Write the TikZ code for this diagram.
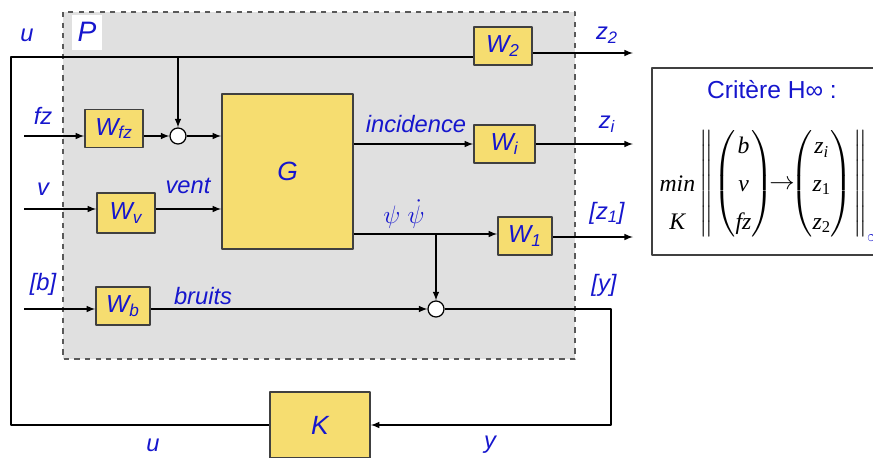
\documentclass[tikz,border=0pt]{standalone}
\usepackage{amsmath}
\usepackage{fontspec}
\setmainfont{Liberation Sans}
\newfontfamily\seriffont{Liberation Serif}
\newcommand{\ts}[1]{\text{\seriffont\itshape #1}}
\definecolor{jaune}{RGB}{246,221,112}
\definecolor{bleu}{RGB}{22,22,205}
\definecolor{grisP}{RGB}{224,224,224}
\begin{document}
\begin{tikzpicture}[x=0.02cm, y=-0.02cm, >=latex, line join=round, line width=0.7pt,
    wbox/.style={draw=black!75, fill=jaune, line width=0.9pt, inner sep=0pt,
      minimum height=0.76cm, font=\fontsize{14}{16}\selectfont\itshape, text=bleu},
    lbl/.style={text=bleu, font=\fontsize{13.5}{16}\selectfont\itshape},
    somme/.style={draw, fill=white, circle, inner sep=0pt, minimum size=0.32cm}]
  \useasboundingbox (0,0) rectangle (873,457);

  % Bloc P (fond gris en pointillés)
  \draw[fill=grisP, draw=black!65, dashed, line width=0.9pt] (63,12) rectangle (575,359);
  \node[lbl, fill=white, minimum width=0.62cm, minimum height=0.7cm, font=\fontsize{16}{18}\selectfont\itshape] (P) at (87,32) {P};

  % Blocs
  \node[wbox, minimum width=1.16cm] (Wfz) at (114,128.5) {W\textsubscript{fz}};
  \node[wbox, minimum width=1.16cm, minimum height=0.8cm] (Wv) at (126,213) {W\textsubscript{v}};
  \node[wbox, minimum width=1.08cm] (Wb) at (123,306) {W\textsubscript{b}};
  \node[wbox, minimum width=1.16cm] (W2) at (503,46) {W\textsubscript{2}};
  \node[wbox, minimum width=1.22cm] (Wi) at (504.5,144) {W\textsubscript{i}};
  \node[wbox, minimum width=1.08cm] (W1) at (525,236) {W\textsubscript{1}};
  \node[wbox, minimum width=2.62cm, minimum height=3.1cm, font=\fontsize{15}{17}\selectfont\itshape] (G) at (287.5,171.5) {\raisebox{-0.16cm}{G}};
  \node[wbox, minimum width=2cm, minimum height=1.32cm, font=\fontsize{15}{17}\selectfont\itshape] (K) at (320,425) {K};
  \node[somme] (S1) at (178,136) {};
  \node[somme] (S2) at (436,309) {};

  % Points de passage
  \coordinate (ucoin) at (11,57);
  \coordinate (ycoin) at (611,425);
  \coordinate (infz) at (24,136);
  \coordinate (inv) at (24,209);
  \coordinate (inb) at (24,309);
  \coordinate (psi) at (436,234);
  \coordinate (z2) at (633,53);
  \coordinate (zi) at (633,144);
  \coordinate (z1) at (633,237);

  % Entrées
  \draw[->] (infz) -- (infz -| Wfz.west);
  \draw[->] (inv) -- (inv -| Wv.west);
  \draw[->] (inb) -- (inb -| Wb.west);
  \draw[->] (Wfz.east |- S1) -- (S1.west);
  \draw[->] (S1.east) -- (S1 -| G.west);
  \draw[->] (Wv.east |- inv) -- (inv -| G.west);
  \draw[->] (Wb.east |- S2) -- (S2.west);

  % Boucle de commande u
  \draw (K.west) -| (ucoin) -- (ucoin -| W2.west);
  \draw[->] (S1 |- ucoin) -- (S1.north);

  % Sorties
  \draw[->] (G.east |- Wi) -- (Wi.west);
  \draw[->] (G.east |- psi) -- (psi -| W1.west);
  \draw[->] (psi) -- (S2.north);
  \draw[->] (z2 -| W2.east) -- (z2);
  \draw[->] (Wi.east) -- (zi);
  \draw[->] (z1 -| W1.east) -- (z1);
  \draw[->] (S2.east) -| (ycoin) -- (K.east);

  % Étiquettes
  \node[lbl] (lu) at (27,35) {u};
  \node[lbl] (lfz) at (43,116) {fz};
  \node[lbl] (lv) at (43,189) {v};
  \node[lbl] (lb) at (43,284) {[b]};
  \node[lbl] (lvent) at (188,186) {vent};
  \node[lbl] (lbruits) at (203,296) {bruits};
  \node[lbl] (linc) at (416,124) {incidence};
  \node[lbl] (lpsi) at (404,214) {$\psi\;\dot{\psi}$};
  \node[lbl] (lz2) at (607,35) {z\textsubscript{2}};
  \node[lbl] (lzi) at (607,124) {z\textsubscript{i}};
  \node[lbl] (lz1) at (607,213) {[z\textsubscript{1}]};
  \node[lbl] (ly) at (604,285) {[y]};
  \node[lbl] (lu2) at (153,445) {u};
  \node[lbl] (ly2) at (490,445) {y};

  % Critère H infini
  \draw[draw=black!75, line width=0.9pt] (652,68) rectangle (890,255);
  \node[text=bleu, font=\fontsize{14}{16}\selectfont] (crit) at (772,90) {Critère H∞ :};
  \node[anchor=west, font=\fontsize{13.5}{16}\selectfont, inner sep=0pt] (form) at (659,184)
    {\renewcommand{\arraystretch}{1.35}\setlength{\arraycolsep}{2pt}%
     $\begin{array}{@{}c@{}} \\ \ts{min} \\ \ts{K} \end{array}
      \left\|\begin{pmatrix} \ts{b}\\ \ts{v}\\ \ts{fz} \end{pmatrix}\!\!\mathord{\rightarrow}\!\!
      \begin{pmatrix} \ts{z}_{\ts{i}}\\ \ts{z}_{\text{\seriffont 1}}\\ \ts{z}_{\text{\seriffont 2}} \end{pmatrix}\right\|_{\color{bleu}\infty}$};
\end{tikzpicture}
\end{document}
